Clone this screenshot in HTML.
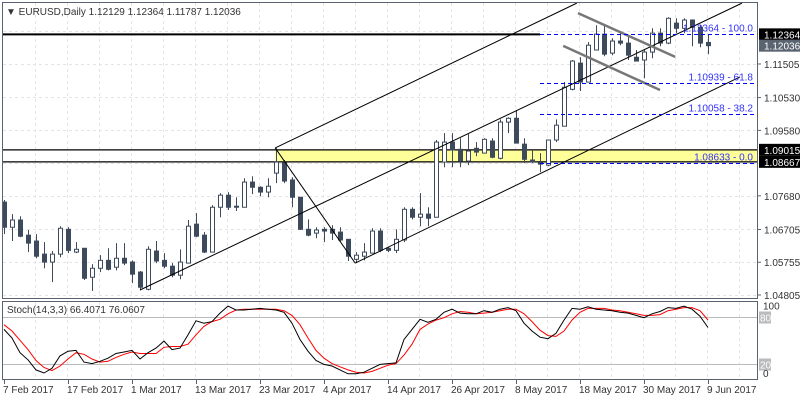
<!DOCTYPE html>
<html><head><meta charset="utf-8"><style>
html,body{margin:0;padding:0;background:#fff;}
svg{display:block;font-family:"Liberation Sans",sans-serif;}
</style></head><body>
<svg id="c" width="800" height="400" viewBox="0 0 800 400"></svg>
<script>
// ---- data ----
const opens=[1.0750,1.0677,1.0698,1.0654,1.0637,1.0599,1.0576,1.0599,1.0671,1.0605,1.0616,1.0532,1.0558,1.0581,1.0561,1.0587,1.0576,1.0547,1.0497,1.0608,1.0581,1.0564,1.0538,1.0573,1.0686,1.0654,1.0605,1.0735,1.0770,1.0738,1.0735,1.0808,1.0793,1.0779,1.0834,1.0863,1.0814,1.0764,1.0671,1.0660,1.0671,1.0671,1.0663,1.0642,1.0584,1.0593,1.0602,1.0666,1.0616,1.0610,1.0640,1.0729,1.0706,1.0715,1.0706,1.0866,1.0924,1.0903,1.0869,1.0906,1.0892,1.0927,1.0877,1.0982,1.0993,1.0918,1.0872,1.0863,1.0857,1.0930,1.0970,1.1077,1.1153,1.1098,1.1191,1.1237,1.1182,1.1217,1.1211,1.1170,1.1162,1.1185,1.1240,1.1211,1.1269,1.1254,1.1278,1.1257,1.12129];
const highs=[1.0756,1.0715,1.0709,1.0669,1.0657,1.0634,1.0608,1.0680,1.0677,1.0634,1.0616,1.0570,1.0596,1.0616,1.0631,1.0631,1.0581,1.0550,1.0622,1.0637,1.0602,1.0573,1.0613,1.0698,1.0718,1.0663,1.0741,1.0776,1.0779,1.0764,1.0819,1.0825,1.0796,1.0819,1.0906,1.0872,1.0822,1.0764,1.0700,1.0677,1.0677,1.0683,1.0677,1.0642,1.0605,1.0631,1.0674,1.0674,1.0619,1.0671,1.0735,1.0735,1.0776,1.0735,1.0930,1.0950,1.0950,1.0935,1.0947,1.0924,1.0935,1.0935,1.0990,1.0996,1.1017,1.0935,1.0901,1.0892,1.0930,1.0990,1.1098,1.1162,1.1170,1.1214,1.1263,1.1263,1.1225,1.1243,1.1234,1.1191,1.1191,1.1254,1.1254,1.1286,1.1283,1.1283,1.1280,1.1263,1.12364];
const lows=[1.0657,1.0637,1.0648,1.0605,1.0587,1.0558,1.0518,1.0590,1.0602,1.0602,1.0524,1.0492,1.0547,1.0552,1.0552,1.0567,1.0515,1.0494,1.0494,1.0573,1.0558,1.0532,1.0526,1.0573,1.0648,1.0602,1.0605,1.0706,1.0727,1.0724,1.0735,1.0773,1.0767,1.0764,1.0805,1.0805,1.0735,1.0669,1.0651,1.0645,1.0634,1.0640,1.0634,1.0579,1.0573,1.0581,1.0602,1.0605,1.0605,1.0602,1.0634,1.0700,1.0680,1.0680,1.0706,1.0851,1.0851,1.0851,1.0857,1.0883,1.0892,1.0877,1.0874,1.0950,1.0921,1.0863,1.0863,1.0837,1.0854,1.0924,1.0970,1.1074,1.1072,1.1098,1.1191,1.1173,1.1176,1.1205,1.1162,1.1159,1.1109,1.1167,1.1202,1.1208,1.1240,1.1240,1.1202,1.1199,1.11787];
const closes=[1.0677,1.0698,1.0651,1.0631,1.0593,1.0576,1.0599,1.0674,1.0610,1.0613,1.0529,1.0558,1.0581,1.0555,1.0587,1.0573,1.0541,1.0503,1.0613,1.0579,1.0564,1.0538,1.0576,1.0680,1.0651,1.0605,1.0735,1.0770,1.0735,1.0735,1.0808,1.0793,1.0779,1.0796,1.0866,1.0811,1.0764,1.0671,1.0654,1.0669,1.0666,1.0660,1.0640,1.0593,1.0596,1.0605,1.0666,1.0610,1.0610,1.0642,1.0729,1.0706,1.0715,1.0703,1.0924,1.0924,1.0901,1.0869,1.0898,1.0895,1.0932,1.0880,1.0982,1.0993,1.0921,1.0874,1.0866,1.0860,1.0930,1.0973,1.1083,1.1159,1.1098,1.1205,1.1237,1.1179,1.1217,1.1211,1.1176,1.1159,1.1185,1.1240,1.1211,1.1283,1.1254,1.1278,1.1257,1.1211,1.12036];
const stochK=[64,53,34,25,12,8,14,30,36,37,22,20,23,27,33,35,37,26,34,40,49,38,40,57,75,72,74,85,94,89,89,90,91,90,89,86,72,51,36,24,19,17,12,7,7,9,14,19,20,21,51,64,77,73,77,86,90,85,84,84,88,86,90,92,88,72,62,54,52,59,76,91,90,93,90,89,88,86,85,82,79,84,87,92,91,94,90,81,66.4];
const stochD=[70,62,50,38,24,15,11,17,26,34,32,26,22,23,28,32,35,33,33,33,41,42,42,45,57,68,74,77,84,89,90,90,90,90,90,88,82,70,53,37,27,20,16,12,9,8,10,14,18,20,31,45,64,71,76,79,84,87,86,84,85,86,88,90,90,84,74,63,56,55,62,76,86,91,91,91,89,88,86,84,82,82,83,88,90,92,92,88,76.1];
const priceTicks=[1.11505,1.10530,1.09580,1.07680,1.06705,1.05755,1.04805];
const dateLabels=["7 Feb 2017","17 Feb 2017","1 Mar 2017","13 Mar 2017","23 Mar 2017","4 Apr 2017","14 Apr 2017","26 Apr 2017","8 May 2017","18 May 2017","30 May 2017","9 Jun 2017"];
const fibLevels=[1.12364,1.10939,1.10058,1.08633];
const fibPct=["100.0","61.8","38.2","0.0"];
const zoneTop=1.09015, zoneBottom=1.08667;
// trendline anchors: [bar1, price1, bar2, price2]
const channelLines=[[17,1.0495,92.25,1.1327],[33.9,1.0907,71.6,1.1327],[43.9,1.0573,92,1.1113],[33.9,1.0907,43.9,1.0573]];
const flagLines=[[71.75,1.1298,83.9,1.1171],[69.9,1.1203,82,1.1075]];

// ---- axes ----
const xOf=i=>4+8*i;
const yP=p=>295-(p-1.04805)*3448;
const yS=v=>379.2-v*0.778;
const NS="http://www.w3.org/2000/svg";
const svg=document.getElementById('c');
function mk(tag,attrs,parent){const e=document.createElementNS(NS,tag);for(const k in attrs)e.setAttribute(k,attrs[k]);(parent||svg).appendChild(e);return e;}

// grid
const grid=mk('g',{stroke:'#e4e4e4','stroke-dasharray':'3,3','stroke-width':1});


for(let x=35.5;x<757;x+=32){mk('line',{x1:x,y1:3,x2:x,y2:297},grid);mk('line',{x1:x,y1:302,x2:x,y2:379},grid);}
for(let k=0;k<9;k++){const y=Math.round(295-33*k)+0.5;mk('line',{x1:3,y1:y,x2:756,y2:y},grid);}

// yellow zone
const zone=mk('rect',{x:xOf(33.9),y:yP(zoneTop),width:757-xOf(33.9),height:yP(zoneBottom)-yP(zoneTop),fill:'#ffff99'});


[zoneTop,zoneBottom].forEach(p=>{const l=mk('line',{x1:2,y1:yP(p),x2:757,y2:yP(p),stroke:'#000','stroke-width':1.2});

});
const topLine=mk('line',{x1:2,y1:yP(fibLevels[0]),x2:xOf(67),y2:yP(fibLevels[0]),stroke:'#000','stroke-width':2});



// candles
const cg=mk('g',{});


for(let i=0;i<opens.length;i++){
  const xc=xOf(i)+0.5, o=opens[i],c=closes[i];
  const bull=c>=o;
  const g=mk('g',{},cg);
  
  
  mk('line',{x1:xc,y1:yP(highs[i]),x2:xc,y2:yP(lows[i]),stroke:'#3d4a5c','stroke-width':1},g);
  const yt=Math.min(yP(o),yP(c)), h=Math.max(1,Math.abs(yP(o)-yP(c)));
  mk('rect',{x:xc-2,y:yt,width:4,height:h,fill:bull?'#fff':'#3d4a5c',stroke:'#3d4a5c','stroke-width':1},g);
}

// trendlines
channelLines.forEach(a=>{const l=mk('line',{x1:xOf(a[0]),y1:yP(a[1]),x2:xOf(a[2]),y2:yP(a[3]),stroke:'#000','stroke-width':1});

});
flagLines.forEach(a=>{const l=mk('line',{x1:xOf(a[0]),y1:yP(a[1]),x2:xOf(a[2]),y2:yP(a[3]),stroke:'#777','stroke-width':2.5});

});

// fib
fibLevels.forEach((p,k)=>{const y=Math.round(yP(p))+0.5;
  const l=mk('line',{x1:xOf(67),y1:y,x2:757,y2:y,stroke:'#0000ff','stroke-dasharray':'4,3','stroke-width':1});
  
  
  const t=mk('text',{x:753,y:y-3,'text-anchor':'end','font-size':10,fill:'#3333ff'});
  t.textContent=p.toFixed(5)+' - '+fibPct[k];
  
  
});

// frames
const f1=mk('rect',{x:2.5,y:2.5,width:755,height:296,fill:'none',stroke:'#5a6470'});


const f2=mk('rect',{x:2.5,y:301.5,width:755,height:78,fill:'none',stroke:'#5a6470'});



// price axis
priceTicks.forEach(p=>{const y=yP(p);
  mk('line',{x1:757,y1:y,x2:761,y2:y,stroke:'#5a6470'});
  const t=mk('text',{x:764,y:y+4,'font-size':10,fill:'#333'});t.textContent=p.toFixed(5);
  
  });
[[1.12364,'#000'],[1.12036,'#5a6470'],[zoneTop,'#000'],[zoneBottom,'#000']].forEach(b=>{const y=yP(b[0]);
  const r=mk('rect',{x:759,y:y-6,width:41,height:12,fill:b[1]});
  
  
  const t=mk('text',{x:764,y:y+4,'font-size':10,fill:'#fff'});t.textContent=b[0].toFixed(5);
  
  });

// header
const hd=mk('text',{x:6,y:15,'font-size':10,fill:'#333'});
hd.textContent='\u25BC EURUSD,Daily  1.12129 1.12364 1.11787 1.12036';



// stoch
[80,20].forEach(v=>{const y=Math.round(yS(v))+0.5;
  const l=mk('line',{x1:3,y1:y,x2:757,y2:y,stroke:'#bbb'});
  
  
  const r=mk('rect',{x:759,y:y-6,width:12,height:12,fill:'#bbb'});
  
  
  const t=mk('text',{x:760,y:y+4,'font-size':10,fill:'#fff'});t.textContent=v;
  
  });
[[100,yS(100)+8],[0,yS(0)-2]].forEach(a=>{const t=mk('text',{x:763,y:a[1],'font-size':10,fill:'#333'});t.textContent=a[0];
  
  });
const dPath=stochD.map((v,i)=>(i?'L':'M')+xOf(i)+','+yS(v).toFixed(1)).join('');
const kPath=stochK.map((v,i)=>(i?'L':'M')+xOf(i)+','+yS(v).toFixed(1)).join('');
const dl=mk('path',{d:dPath,fill:'none',stroke:'#ff0000','stroke-width':1});


const kl=mk('path',{d:kPath,fill:'none',stroke:'#000','stroke-width':1});


const st=mk('text',{x:7,y:313,'font-size':10,fill:'#333'});
st.textContent='Stoch(14,3,3) 66.4071 76.0607';



// date axis
dateLabels.forEach((d,k)=>{const x=xOf(8*k);
  mk('line',{x1:x+0.5,y1:380,x2:x+0.5,y2:384,stroke:'#5a6470'});
  const t=mk('text',{x:x-1,y:393,'font-size':10,fill:'#333'});t.textContent=d;
  
  });
</script>
</body></html>
